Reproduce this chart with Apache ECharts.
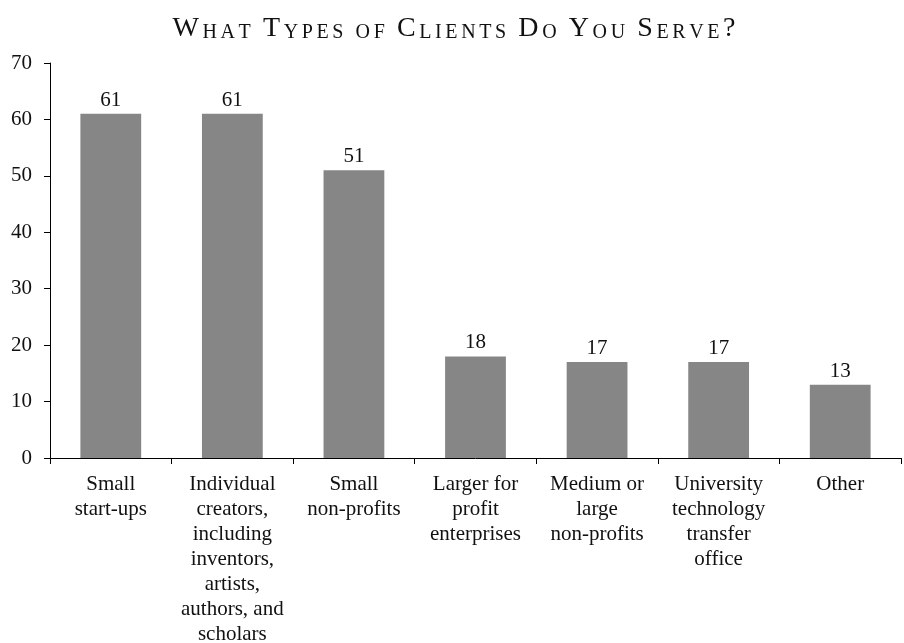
<!DOCTYPE html>
<html>
<head>
<meta charset="utf-8">
<script src="https://cdn.jsdelivr.net/npm/echarts@6/dist/echarts.min.js"></script>
<style>
  html, body { margin: 0; padding: 0; background: #fff; }
  #chart { width: 904px; height: 643px; }
</style>
</head>
<body>
<div id="chart"></div>
<script>
// Survey responses: types of clients served
const titleText = 'What Types of Clients Do You Serve?';
const categories = [
  'Small\nstart-ups',
  'Individual\ncreators,\nincluding\ninventors,\nartists,\nauthors, and\nscholars',
  'Small\nnon-profits',
  'Larger for\nprofit\nenterprises',
  'Medium or\nlarge\nnon-profits',
  'University\ntechnology\ntransfer\noffice',
  'Other'
];
const counts = [61, 61, 51, 18, 17, 17, 13];
const yTicks = { min: 0, max: 70, interval: 10 };

const serif = '"Liberation Serif", "DejaVu Serif", serif';

// Small-caps title: capitals at full size, lowercase letters as smaller capitals,
// each glyph its own rich token so a little tracking can be added
function smallCaps(str) {
  let out = '';
  const chars = Array.from(str);
  chars.forEach((ch, i) => {
    const last = i === chars.length - 1;
    let style, glyph;
    if (ch === ' ') { style = 'sp'; glyph = ' '; }
    else if (ch !== ch.toLowerCase() || ch === '?') { style = 'big'; glyph = ch; }
    else { style = 'small'; glyph = ch.toUpperCase(); }
    if (!last) style += 't';
    out += '{' + style + '|' + glyph + '}';
  });
  return out;
}

const track = 3.6;
const bigStyle = { fontFamily: serif, fontSize: 28, color: '#111', fontWeight: 'normal', lineHeight: 34, verticalAlign: 'bottom' };
const smallStyle = { fontFamily: serif, fontSize: 20, color: '#111', fontWeight: 'normal', lineHeight: 34, verticalAlign: 'bottom' };

const chart = echarts.init(document.getElementById('chart'));
chart.setOption({
  animation: false,
  title: {
    text: smallCaps(titleText),
    left: 449,
    textAlign: 'center',
    top: 4,
    textStyle: {
      fontWeight: 'normal',
      rich: {
        big: bigStyle,
        small: smallStyle,
        sp: smallStyle,
        bigt: Object.assign({}, bigStyle, { padding: [0, track, 0, 0] }),
        smallt: Object.assign({}, smallStyle, { padding: [0, track, 0, 0] }),
        spt: Object.assign({}, smallStyle, { padding: [0, track, 0, 0] })
      }
    }
  },
  grid: { left: 50, right: 3, top: 63, bottom: 185, containLabel: false, outerBoundsMode: 'none' },
  xAxis: {
    type: 'category',
    data: categories,
    axisLine: { lineStyle: { color: '#000', width: 1 } },
    axisTick: { show: true, alignWithLabel: false, length: 6, lineStyle: { color: '#000' } },
    axisLabel: {
      interval: 0,
      margin: 14,
      fontFamily: serif,
      fontSize: 21,
      color: '#111',
      lineHeight: 25,
      align: 'center'
    }
  },
  yAxis: {
    type: 'value',
    min: yTicks.min,
    max: yTicks.max,
    interval: yTicks.interval,
    axisLine: { show: true, lineStyle: { color: '#000', width: 1 } },
    axisTick: { show: true, length: 6, lineStyle: { color: '#000' } },
    splitLine: { show: false },
    axisLabel: { fontFamily: serif, fontSize: 21, color: '#111', margin: 18 }
  },
  series: [{
    type: 'bar',
    data: counts,
    barWidth: '50%',
    itemStyle: { color: '#868686' },
    label: {
      show: true,
      position: 'top',
      distance: 3,
      fontFamily: serif,
      fontSize: 21,
      color: '#111'
    }
  }]
});
</script>
</body>
</html>
